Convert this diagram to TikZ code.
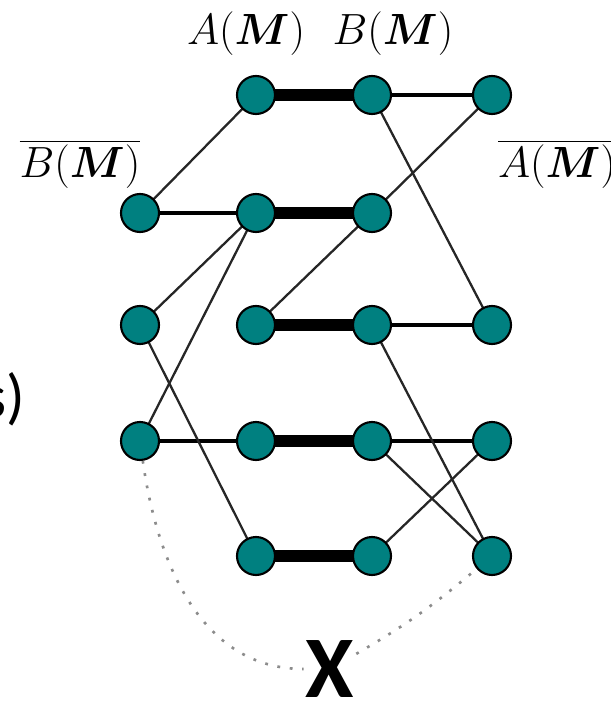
\documentclass[tikz,border=0pt]{standalone}
\usepackage{fontspec}
\usepackage{bm}
\usetikzlibrary{backgrounds}
\newfontfamily\calib{Carlito}
\definecolor{tealnode}{HTML}{008080}
\definecolor{dotgray}{HTML}{8C8C8C}

\begin{document}
\begin{tikzpicture}[
  vtx/.style={circle,draw=black,line width=1.2pt,fill=tealnode,minimum size=0.76cm,inner sep=0pt},
  bond/.style={line width=6.6pt},
  fl/.style={line width=2.2pt},
  dg/.style={line width=1.3pt,draw=black!85},
  dotl/.style={draw=dotgray,line width=1.5pt,dash pattern=on 1.6pt off 5.5pt},
  lbl/.style={anchor=base,inner sep=0pt,font=\fontsize{25}{30}\selectfont}
]
\useasboundingbox (0,0) rectangle (12.2,-14.02);
% row 0
\node[vtx] (v01) at (5.12,-1.9) {};
\node[vtx] (v02) at (7.44,-1.9) {};
\node[vtx] (v03) at (9.84,-1.9) {};
% row 1
\node[vtx] (v10) at (2.8,-4.26) {};
\node[vtx] (v11) at (5.12,-4.26) {};
\node[vtx] (v12) at (7.44,-4.26) {};
% row 2
\node[vtx] (v20) at (2.8,-6.5) {};
\node[vtx] (v21) at (5.12,-6.5) {};
\node[vtx] (v22) at (7.44,-6.5) {};
\node[vtx] (v23) at (9.84,-6.5) {};
% row 3
\node[vtx] (v30) at (2.8,-8.82) {};
\node[vtx] (v31) at (5.12,-8.82) {};
\node[vtx] (v32) at (7.44,-8.82) {};
\node[vtx] (v33) at (9.84,-8.82) {};
% row 4
\node[vtx] (v41) at (5.12,-11.12) {};
\node[vtx] (v42) at (7.44,-11.12) {};
\node[vtx] (v43) at (9.84,-11.12) {};
% labels
\node[lbl] (la) at (4.92,-0.88) {$A(\bm{M})$};
\node[lbl] (lb) at (7.86,-0.88) {$B(\bm{M})$};
\node[lbl] (nb) at (1.6,-3.54) {$\overline{B(\bm{M})}$};
\node[lbl] (na) at (11.14,-3.54) {$\overline{A(\bm{M})}$};
\node[anchor=base east,inner sep=0pt,font=\calib\fontsize{35}{40}\selectfont] (cut) at (0.52,-8.34) {s)};
\node[anchor=base,inner sep=1pt,font=\calib\bfseries\fontsize{50}{60}\selectfont] (xx) at (6.6,-13.95) {X};
\begin{scope}[on background layer]
\draw[bond] (v01.center) -- (v02.center);
\draw[bond] (v11.center) -- (v12.center);
\draw[bond] (v21.center) -- (v22.center);
\draw[bond] (v31.center) -- (v32.center);
\draw[bond] (v41.center) -- (v42.center);
\draw[fl] (v02.center) -- (v03.center);
\draw[fl] (v10.center) -- (v11.center);
\draw[fl] (v22.center) -- (v23.center);
\draw[fl] (v30.center) -- (v31.center);
\draw[fl] (v32.center) -- (v33.center);
\draw[dg] (v10.center) -- (v01.center);
\draw[dg] (v02.center) -- (v23.center);
\draw[dg] (v03.center) -- (v12.center);
\draw[dg] (v12.center) -- (v21.center);
\draw[dg] (v11.center) -- (v20.center);
\draw[dg] (v11.center) -- (v30.center);
\draw[dg] (v20.center) -- (v41.center);
\draw[dg] (v22.center) -- (v43.center);
\draw[dg] (v32.center) -- (v43.center);
\draw[dg] (v33.center) -- (v42.center);
\end{scope}
\draw[dotl] (v30) to[out=-82,in=180] (xx.west);
\draw[dotl] (xx.30) to[out=30,in=-140] (v43);
\end{tikzpicture}
\end{document}
